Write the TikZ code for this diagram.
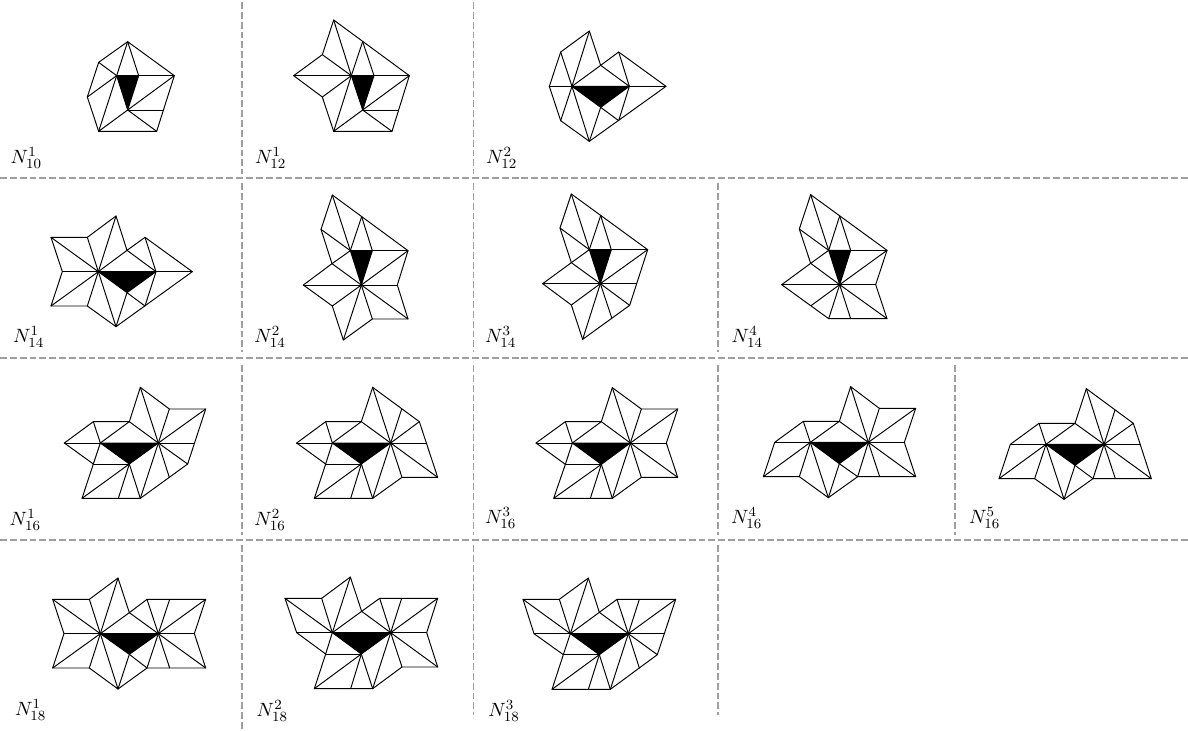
\documentclass[tikz,border=0pt]{standalone}
\usepackage{amsmath}
\tikzset{
  meshln/.style={line width=0.55pt, line join=round, line cap=round},
  sepln/.style={dash pattern=on 3.9pt off 1.7pt, line width=0.7pt, gray!75},
  lab/.style={font=\fontsize{10.95}{13}\selectfont, inner sep=0pt},
}
% black face of a figure, its corners stay usable as (a), (b), (c)
\newcommand{\blackface}[3]{%
  \coordinate (a) at #1;
  \coordinate (b) at #2;
  \coordinate (c) at #3;
  \filldraw[meshln, fill=black] (a) -- (b) -- (c) -- cycle;
}
\newcommand{\spokes}[2]{%
  \foreach \p in {#2} \draw[meshln] #1 -- \p;
}
\begin{document}
\begin{tikzpicture}[x=0.0066667cm, y=-0.0066667cm]
  \useasboundingbox (0,0) rectangle (3564,2190);

  % separators
  \foreach \y in {534,1074,1620}
    \draw[sepln] (0,\y) -- (3564,\y);
  \foreach \x/\ya/\yb in {726/6/522, 1420/6/522,
      726/549/1056, 1420/549/1056, 2154/549/1056,
      726/1095/1605, 1420/1095/1605, 2154/1095/1605, 2865/1095/1605,
      726/1635/2190, 1420/1635/2145, 2154/1635/2145}
    \draw[sepln] (\x,\ya) -- (\x,\yb);

  % first row
  \begin{scope}[shift={(0,0)}]
    \blackface{(350,227)}{(416,227)}{(383,330)}
    \draw[meshln] (383,125) -- (296,187) -- (262,291) -- (296,394) -- (470,394) -- (523,227) -- cycle;
    \spokes{(a)}{(383,125),(296,187),(262,291),(296,394),(523,227)}
    \spokes{(b)}{(383,125)}
    \spokes{(c)}{(523,227),(296,394),(470,394),(490,330)}
    \node[lab] (n10a) at (79,475) {$N_{10}^{1}$};
  \end{scope}

  \begin{scope}[shift={(720,0)}]
    \blackface{(334,227)}{(402,227)}{(368,330)}
    \draw[meshln] (281,60) -- (508,227) -- (456,394) -- (281,394) -- (247,291) -- (161,227) -- (247,164) -- cycle;
    \spokes{(a)}{(281,60),(247,164),(161,227),(247,291),(281,394),(368,125),(508,227)}
    \spokes{(b)}{(368,125)}
    \spokes{(c)}{(508,227),(281,394),(456,394),(475,330)}
    \node[lab] (n12a) at (92,475) {$N_{12}^{1}$};
  \end{scope}

  \begin{scope}[shift={(1440,0)}]
    \blackface{(276,259)}{(448,259)}{(362,322)}
    \draw[meshln] (328,93) -- (362,196) -- (416,156) -- (558,259) -- (328,424) -- (242,362) -- (208,259) -- (242,156) -- cycle;
    \spokes{(a)}{(242,156),(328,93),(362,196),(208,259),(242,362),(328,424),(558,259)}
    \spokes{(b)}{(362,196),(416,156),(416,362)}
    \spokes{(c)}{(416,362),(328,424)}
    \node[lab] (n12b) at (65,475) {$N_{12}^{2}$};
  \end{scope}

  % second row
  \begin{scope}[shift={(0,540)}]
    \blackface{(295,275)}{(468,275)}{(381,338)}
    \draw[meshln] (348,108) -- (381,211) -- (435,172) -- (577,275) -- (348,440) -- (262,378) -- (153,378) -- (187,275) -- (153,172) -- (262,172) -- cycle;
    \spokes{(a)}{(262,172),(348,108),(381,211),(153,172),(187,275),(153,378),(262,378),(348,440),(577,275)}
    \spokes{(b)}{(381,211),(435,172),(435,378)}
    \spokes{(c)}{(435,378),(348,440)}
    \node[lab] (n14a) at (86,470) {$N_{14}^{1}$};
  \end{scope}

  \begin{scope}[shift={(720,540)}]
    \blackface{(331,212)}{(397,212)}{(364,315)}
    \draw[meshln] (277,45) -- (504,212) -- (472,315) -- (504,417) -- (397,417) -- (310,480) -- (277,378) -- (190,315) -- (276,251) -- (243,148) -- cycle;
    \spokes{(a)}{(277,45),(243,148),(276,251),(365,110),(504,212)}
    \spokes{(b)}{(365,110)}
    \spokes{(c)}{(504,212),(276,251),(190,315),(472,315),(277,378),(310,480),(397,417),(504,417)}
    \node[lab] (n14b) at (90,470) {$N_{14}^{2}$};
  \end{scope}

  \begin{scope}[shift={(1440,540)}]
    \blackface{(328,209)}{(394,209)}{(361,311)}
    \draw[meshln] (274,42) -- (503,209) -- (449,376) -- (308,478) -- (274,375) -- (188,311) -- (274,248) -- (240,144) -- cycle;
    \spokes{(a)}{(274,42),(240,144),(274,248),(362,107),(503,209)}
    \spokes{(b)}{(362,107)}
    \spokes{(c)}{(503,209),(470,311),(449,376),(395,413),(308,478),(274,375),(188,311),(274,248)}
    \node[lab] (n14c) at (62,470) {$N_{14}^{3}$};
  \end{scope}

  \begin{scope}[shift={(1440,540)}]
    \blackface{(1046,211)}{(1112,211)}{(1079,314)}
    \draw[meshln] (992,44) -- (1221,211) -- (1187,314) -- (1221,416) -- (1046,416) -- (905,314) -- (992,250) -- (958,147) -- cycle;
    \spokes{(a)}{(992,44),(958,147),(992,250),(1079,108),(1221,211)}
    \spokes{(b)}{(1079,108)}
    \spokes{(c)}{(1221,211),(992,250),(905,314),(1187,314),(1221,416),(1112,416),(1046,416),(993,377)}
    \node[lab] (n14d) at (802,470) {$N_{14}^{4}$};
  \end{scope}

  % third row
  \begin{scope}[shift={(0,1080)}]
    \blackface{(301,249)}{(475,249)}{(388,312)}
    \draw[meshln] (421,82) -- (508,147) -- (617,147) -- (563,312) -- (421,415) -- (246,415) -- (280,312) -- (193,249) -- (280,185) -- (388,185) -- cycle;
    \spokes{(a)}{(280,185),(388,185),(193,249),(280,312),(583,249)}
    \spokes{(b)}{(421,82),(508,147),(617,147),(563,312),(508,352),(421,415),(388,185)}
    \spokes{(c)}{(280,312),(246,415),(355,415),(421,415)}
    \node[lab] (n16a) at (76,480) {$N_{16}^{1}$};
  \end{scope}

  \begin{scope}[shift={(0,1080)}]
    \blackface{(997,249)}{(1172,249)}{(1084,312)}
    \draw[meshln] (1118,82) -- (1258,185) -- (1313,352) -- (1206,352) -- (1118,415) -- (943,415) -- (977,312) -- (890,249) -- (977,185) -- (1084,185) -- cycle;
    \spokes{(a)}{(977,185),(1084,185),(890,249),(977,312),(1280,249)}
    \spokes{(b)}{(1118,82),(1205,147),(1258,185),(1313,352),(1206,352),(1118,415),(1084,185)}
    \spokes{(c)}{(977,312),(943,415),(1052,415),(1118,415)}
    \node[lab] (n16b) at (810,480) {$N_{16}^{2}$};
  \end{scope}

  \begin{scope}[shift={(1440,1080)}]
    \blackface{(277,249)}{(451,249)}{(364,313)}
    \draw[meshln] (397,83) -- (484,147) -- (593,147) -- (559,249) -- (593,352) -- (484,352) -- (397,415) -- (221,415) -- (256,313) -- (168,249) -- (256,185) -- (364,185) -- cycle;
    \spokes{(a)}{(256,185),(364,185),(168,249),(256,313),(559,249)}
    \spokes{(b)}{(397,83),(484,147),(593,147),(593,352),(484,352),(397,415),(364,185)}
    \spokes{(c)}{(256,313),(221,415),(331,415),(397,415)}
    \node[lab] (n16c) at (62,475) {$N_{16}^{3}$};
  \end{scope}

  \begin{scope}[shift={(2160,1080)}]
    \blackface{(271,247)}{(445,247)}{(358,311)}
    \draw[meshln] (392,80) -- (478,145) -- (587,145) -- (553,247) -- (587,350) -- (413,350) -- (325,413) -- (238,350) -- (130,350) -- (164,247) -- (250,184) -- (358,184) -- cycle;
    \spokes{(a)}{(164,247),(553,247),(250,184),(358,184),(130,350),(238,350),(325,413)}
    \spokes{(b)}{(392,80),(478,145),(587,145),(587,350),(479,350),(413,350),(358,184)}
    \spokes{(c)}{(413,350),(325,413)}
    \node[lab] (n16d) at (80,475) {$N_{16}^{4}$};
  \end{scope}

  \begin{scope}[shift={(2850,1080)}]
    \blackface{(288,253)}{(462,253)}{(375,316)}
    \draw[meshln] (409,86) -- (550,190) -- (604,356) -- (429,356) -- (342,418) -- (254,356) -- (147,356) -- (181,253) -- (267,190) -- (375,190) -- cycle;
    \spokes{(a)}{(181,253),(571,253),(267,190),(375,190),(147,356),(254,356),(342,418)}
    \spokes{(b)}{(409,86),(495,150),(550,190),(604,356),(496,356),(429,356),(375,190)}
    \spokes{(c)}{(429,356),(342,418)}
    \node[lab] (n16e) at (104,475) {$N_{16}^{5}$};
  \end{scope}

  % fourth row
  \begin{scope}[shift={(0,1635)}]
    \blackface{(301,266)}{(475,266)}{(388,328)}
    \draw[meshln] (354,99) -- (388,203) -- (441,163) -- (617,163) -- (583,266) -- (617,369) -- (441,369) -- (354,432) -- (268,369) -- (158,369) -- (192,266) -- (158,163) -- (268,163) -- cycle;
    \spokes{(a)}{(192,266),(583,266),(268,163),(354,99),(388,203),(158,163),(158,369),(268,369),(354,432)}
    \spokes{(b)}{(388,203),(441,163),(509,163),(617,163),(617,369),(509,369),(441,369)}
    \spokes{(c)}{(441,369),(354,432)}
    \node[lab] (n18a) at (92,495) {$N_{18}^{1}$};
  \end{scope}

  \begin{scope}[shift={(0,1635)}]
    \blackface{(997,263)}{(1172,263)}{(1084,327)}
    \draw[meshln] (1051,96) -- (1085,199) -- (1139,160) -- (1313,160) -- (1280,263) -- (1313,366) -- (1206,366) -- (1118,431) -- (943,431) -- (977,327) -- (890,263) -- (855,160) -- (965,160) -- cycle;
    \spokes{(a)}{(890,263),(1280,263),(965,160),(1051,96),(1085,199),(855,160),(977,327)}
    \spokes{(b)}{(1085,199),(1139,160),(1205,160),(1313,160),(1313,366),(1206,366),(1118,431)}
    \spokes{(c)}{(977,327),(943,431),(1052,431),(1118,431)}
    \node[lab] (n18b) at (817,497) {$N_{18}^{2}$};
  \end{scope}

  \begin{scope}[shift={(1440,1635)}]
    \blackface{(271,266)}{(445,266)}{(358,329)}
    \draw[meshln] (325,99) -- (358,202) -- (411,163) -- (587,163) -- (532,329) -- (391,433) -- (216,433) -- (250,329) -- (162,266) -- (129,163) -- (238,163) -- cycle;
    \spokes{(a)}{(162,266),(553,266),(238,163),(325,99),(358,202),(129,163),(250,329)}
    \spokes{(b)}{(358,202),(411,163),(478,163),(587,163),(532,329),(478,369),(391,433)}
    \spokes{(c)}{(250,329),(216,433),(325,433),(391,433)}
    \node[lab] (n18c) at (72,498) {$N_{18}^{3}$};
  \end{scope}
\end{tikzpicture}
\end{document}
